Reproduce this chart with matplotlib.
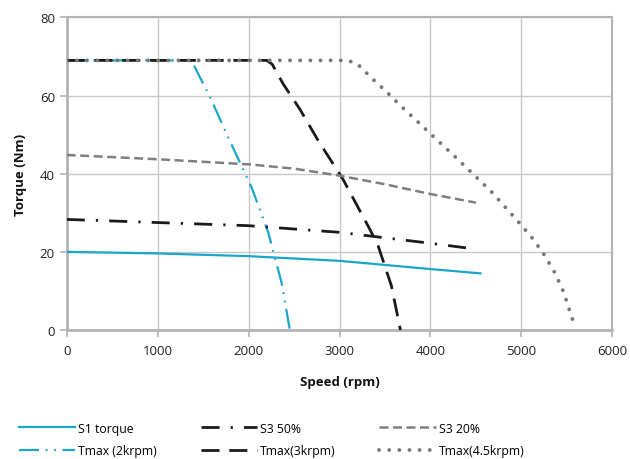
import matplotlib
matplotlib.use("Agg")
import matplotlib.pyplot as plt

plt.rcParams['font.family'] = ['Open Sans', 'DejaVu Sans']

# ---- data ----
s1_rpm = [0, 1000, 2000, 3000, 4000, 4550]
s1_tq = [20.0, 19.6, 18.9, 17.7, 15.6, 14.5]

s3_50_rpm = [0, 1000, 2000, 3000, 4000, 4500]
s3_50_tq = [28.3, 27.5, 26.7, 25.0, 22.2, 20.7]

s3_20_rpm = [0, 1000, 2000, 2500, 3000, 3500, 4000, 4500]
s3_20_tq = [44.8, 43.7, 42.4, 41.3, 39.5, 37.3, 34.8, 32.6]

t2_rpm = [0, 1373, 1436, 1582, 1802, 2033, 2216, 2362, 2454]
t2_tq = [69, 69, 66, 59.3, 48, 36.5, 25, 12.2, 0]

t3_rpm = [0, 2200, 2260, 2380, 2564, 2765, 3040, 3333, 3424, 3571, 3670]
t3_tq = [69, 69, 68, 63, 56.5, 48.5, 38.5, 25.8, 21.6, 11.3, 0]

t45_rpm = [0, 3080, 3187, 3352, 3516, 3681, 4011, 4341, 4670, 4974, 5121, 5256, 5369, 5465, 5531, 5570]
t45_tq = [69, 69, 68.3, 64.5, 61.0, 57.2, 50.0, 42.8, 35.4, 27.5, 23.5, 19.1, 14.6, 9.7, 4.9, 2.2]

x_ticks = [0, 1000, 2000, 3000, 4000, 5000, 6000]
y_ticks = [0, 20, 40, 60, 80]

cyan = '#1aa6c8'
black = '#1a1a1a'
gray = '#7f7f7f'

fig = plt.figure(figsize=(6.3, 4.6), dpi=100)
ax = fig.add_axes([0.1059, 0.2804, 0.866, 0.6796])

ax.plot(s1_rpm, s1_tq, color=cyan, lw=1.6, label='S1 torque', zorder=3)
ax.plot(t2_rpm, t2_tq, color=cyan, lw=1.6, linestyle=(0, (9, 3, 0.8, 3, 0.8, 3)),
        label='Tmax (2krpm)', zorder=3)
ax.plot(s3_50_rpm, s3_50_tq, color=black, lw=2.0, linestyle=(0, (6.5, 4, 0.8, 4)),
        label='S3 50%', zorder=3)
ax.plot(t3_rpm, t3_tq, color=black, lw=2.0, linestyle=(0, (6.5, 3.5)),
        label='Tmax(3krpm)', zorder=3)
ax.plot(s3_20_rpm, s3_20_tq, color=gray, lw=1.8, linestyle=(0, (3.6, 1.8)),
        label='S3 20%', zorder=3)
ax.plot(t45_rpm, t45_tq, color='#77777a', lw=2.8, linestyle=(0, (0.01, 2.6)),
        dash_capstyle='round', label='Tmax(4.5krpm)', zorder=3)

ax.set_xlim(0, 6000)
ax.set_ylim(0, 80)
ax.set_xticks(x_ticks)
ax.set_yticks(y_ticks)
ax.grid(True, color='#c8c8c8', lw=1.0, zorder=0)
ax.set_axisbelow(True)
for side in ['left', 'bottom']:
    ax.spines[side].set_color('#b4b4b4')
    ax.spines[side].set_linewidth(2.0)
for side in ['top', 'right']:
    ax.spines[side].set_color('#b4b4b4')
    ax.spines[side].set_linewidth(1.5)
ax.tick_params(axis='both', colors='#b4b4b4', labelcolor='#222222', length=5,
               width=1.2, labelsize=9.5)
ax.tick_params(axis='x', pad=5)

ax.set_xlabel('Speed (rpm)', fontweight='bold', fontsize=9.5, color='#111111', labelpad=13)
ax.set_ylabel('Torque (Nm)', fontweight='bold', fontsize=9.5, color='#111111', labelpad=9)

handles, labels = ax.get_legend_handles_labels()
fig.legend(handles, labels, ncol=3, loc='upper left', bbox_to_anchor=(0.012, 0.105),
           frameon=False, fontsize=8.8, handlelength=4.6, handletextpad=0.25,
           columnspacing=3.6, labelspacing=0.75)

fig.savefig('out.png', dpi=100)
